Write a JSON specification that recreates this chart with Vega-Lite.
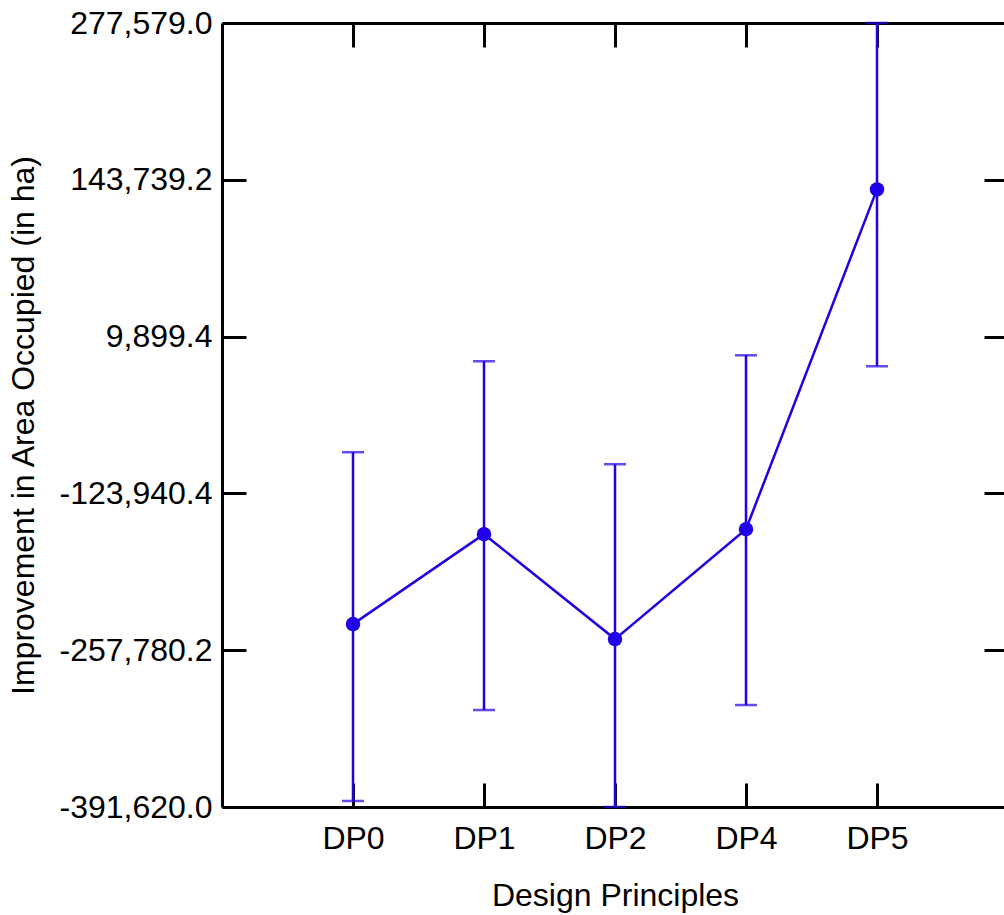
{
  "$schema": "https://vega.github.io/schema/vega-lite/v6.json",
  "autosize": "none",
  "width": 786,
  "height": 784,
  "padding": {"left": 222, "top": 23, "right": 0, "bottom": 108},
  "background": "white",
  "config": {
    "view": {"stroke": null},
    "axis": {
      "domainColor": "black",
      "domainWidth": 3,
      "tickColor": "black",
      "tickWidth": 3,
      "tickSize": -24,
      "grid": false,
      "labelFont": "Liberation Sans",
      "labelFontSize": 32,
      "labelColor": "black",
      "titleFont": "Liberation Sans",
      "titleFontSize": 32,
      "titleFontWeight": "normal",
      "titleColor": "black"
    }
  },
  "data": {
    "values": [
      {"dp": "DP0", "mean": -235501, "lower": -386481, "upper": -88782},
      {"dp": "DP1", "mean": -158731, "lower": -308859, "upper": -11162},
      {"dp": "DP2", "mean": -248296, "lower": -391620, "upper": -99021},
      {"dp": "DP4", "mean": -154466, "lower": -304594, "upper": -6044},
      {"dp": "DP5", "mean": 135554, "lower": -15427, "upper": 277579}
    ]
  },
  "resolve": {"axis": {"x": "independent", "y": "independent"}},
  "layer": [
    {
      "mark": {"type": "rule", "color": "#2000E6", "strokeWidth": 2.5},
      "encoding": {
        "x": {
          "field": "dp", "type": "nominal",
          "scale": {"type": "point", "padding": 1, "domain": ["DP0", "DP1", "DP2", "DP4", "DP5"]},
          "axis": {"orient": "bottom", "title": "Design Principles", "labelPadding": 40, "titlePadding": 26, "labelAngle": 0}
        },
        "y": {
          "field": "lower", "type": "quantitative",
          "scale": {"domain": [-391620, 277579], "nice": false, "zero": false},
          "axis": {
            "orient": "left",
            "title": "Improvement in Area Occupied (in ha)",
            "values": [-391620, -257780.2, -123940.4, 9899.4, 143739.2, 277579],
            "labelExpr": "replace(format(datum.value, ',.1f'), '\u2212', '-')",
            "labelPadding": 34,
            "titlePadding": 18,
            "titleY": 402
          }
        },
        "y2": {"field": "upper"}
      }
    },
    {
      "mark": {"type": "tick", "color": "#2000E6", "thickness": 2.5, "size": 22},
      "encoding": {
        "x": {
          "field": "dp", "type": "nominal",
          "axis": {"orient": "top", "title": null, "labels": false}
        },
        "y": {
          "field": "lower", "type": "quantitative",
          "axis": {"orient": "right", "title": null, "labels": false, "values": [-391620, -257780.2, -123940.4, 9899.4, 143739.2, 277579]}
        }
      }
    },
    {
      "mark": {"type": "tick", "color": "#2000E6", "thickness": 2.5, "size": 22},
      "encoding": {
        "x": {"field": "dp", "type": "nominal", "axis": null},
        "y": {"field": "upper", "type": "quantitative", "axis": null}
      }
    },
    {
      "mark": {"type": "line", "color": "#2000E6", "strokeWidth": 2.5},
      "encoding": {
        "x": {"field": "dp", "type": "nominal", "axis": null},
        "y": {"field": "mean", "type": "quantitative", "axis": null}
      }
    },
    {
      "mark": {"type": "point", "filled": true, "opacity": 1, "color": "#2000E6", "size": 210},
      "encoding": {
        "x": {"field": "dp", "type": "nominal", "axis": null},
        "y": {"field": "mean", "type": "quantitative", "axis": null}
      }
    }
  ]
}
